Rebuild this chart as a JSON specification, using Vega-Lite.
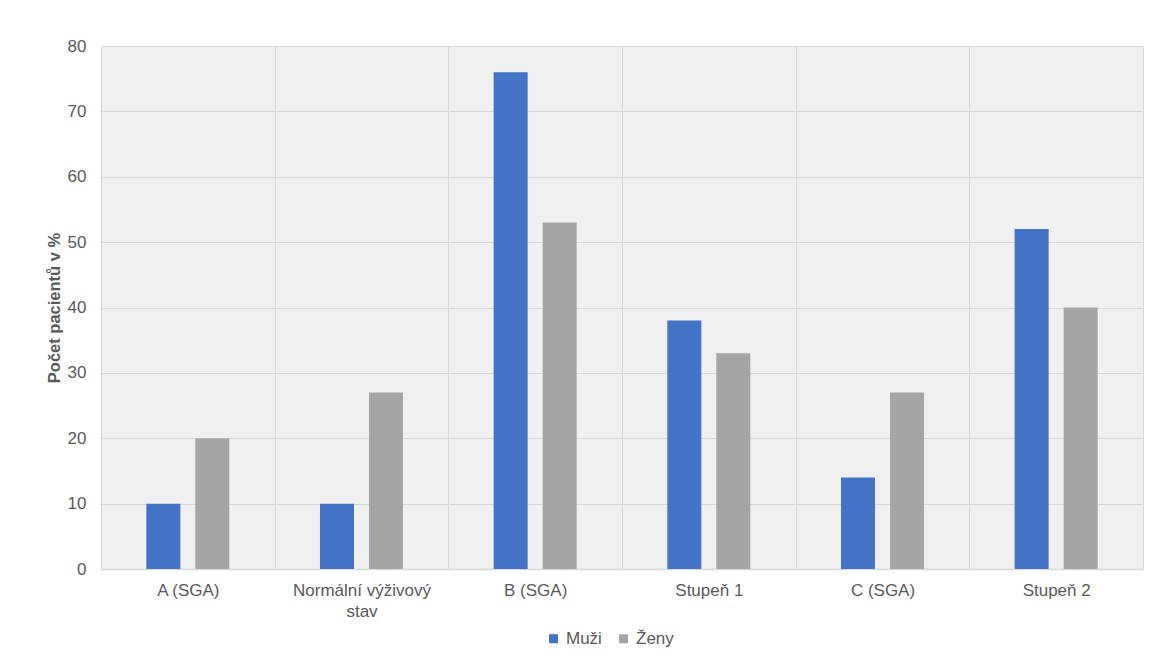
{
  "$schema": "https://vega.github.io/schema/vega-lite/v6.json",
  "width": 1042,
  "height": 523,
  "autosize": {"type": "none"},
  "padding": {"left": 101, "top": 46, "right": 22, "bottom": 98},
  "background": "#ffffff",
  "config": {
    "font": "Liberation Sans",
    "view": {"fill": "#f0f0f0", "stroke": null}
  },
  "data": {
    "values": [
      {"kategorie": "A (SGA)", "pohlavi": "Muži", "procento": 10},
      {"kategorie": "A (SGA)", "pohlavi": "Ženy", "procento": 20},
      {"kategorie": "Normální výživový stav", "pohlavi": "Muži", "procento": 10},
      {"kategorie": "Normální výživový stav", "pohlavi": "Ženy", "procento": 27},
      {"kategorie": "B (SGA)", "pohlavi": "Muži", "procento": 76},
      {"kategorie": "B (SGA)", "pohlavi": "Ženy", "procento": 53},
      {"kategorie": "Stupeň 1", "pohlavi": "Muži", "procento": 38},
      {"kategorie": "Stupeň 1", "pohlavi": "Ženy", "procento": 33},
      {"kategorie": "C (SGA)", "pohlavi": "Muži", "procento": 14},
      {"kategorie": "C (SGA)", "pohlavi": "Ženy", "procento": 27},
      {"kategorie": "Stupeň 2", "pohlavi": "Muži", "procento": 52},
      {"kategorie": "Stupeň 2", "pohlavi": "Ženy", "procento": 40}
    ]
  },
  "mark": {"type": "bar"},
  "encoding": {
    "x": {
      "field": "kategorie",
      "type": "nominal",
      "sort": null,
      "scale": {"paddingInner": 0, "paddingOuter": 0},
      "axis": {
        "title": null,
        "labelAngle": 0,
        "labelFontSize": 17,
        "labelColor": "#595959",
        "labelPadding": 13,
        "labelLineHeight": 21,
        "labelExpr": "datum.label == 'Normální výživový stav' ? ['Normální výživový', 'stav'] : datum.label",
        "ticks": false,
        "grid": true,
        "gridColor": "#d9d9d9",
        "tickBand": "extent",
        "domainColor": "#d9d9d9",
        "domainWidth": 1.5
      }
    },
    "xOffset": {
      "field": "pohlavi",
      "type": "nominal",
      "scale": {"paddingInner": 0.306, "paddingOuter": 0.925}
    },
    "y": {
      "field": "procento",
      "type": "quantitative",
      "scale": {"domain": [0, 80]},
      "axis": {
        "title": "Počet pacientů v %",
        "titleFontSize": 16.5,
        "titleFontWeight": "bold",
        "titleColor": "#595959",
        "titlePadding": 5,
        "values": [0, 10, 20, 30, 40, 50, 60, 70, 80],
        "labelFontSize": 17,
        "labelColor": "#595959",
        "labelPadding": 15,
        "ticks": false,
        "domain": false,
        "gridColor": "#d9d9d9"
      }
    },
    "color": {
      "field": "pohlavi",
      "type": "nominal",
      "scale": {"domain": ["Muži", "Ženy"], "range": ["#4472c4", "#a5a5a5"]},
      "legend": {
        "title": null,
        "orient": "none",
        "legendX": 444,
        "legendY": 584,
        "padding": 0,
        "direction": "horizontal",
        "symbolType": "square",
        "symbolSize": 81,
        "symbolStrokeWidth": 0,
        "labelFontSize": 17,
        "labelColor": "#595959",
        "labelOffset": 4,
        "columnPadding": 13
      }
    }
  }
}
